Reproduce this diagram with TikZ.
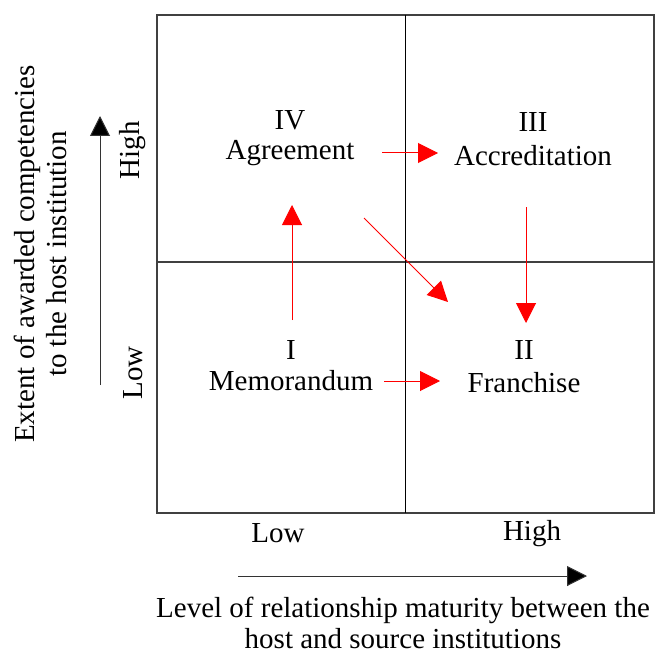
\documentclass[tikz,border=0pt]{standalone}
\usepackage{fontspec}
\setmainfont{Liberation Serif}
\usetikzlibrary{arrows.meta}
\begin{document}
\begin{tikzpicture}[x=1pt,y=-1pt,
  lbl/.style={inner sep=0pt,font=\fontsize{29}{34}\selectfont},
  grid/.style={line width=1.1pt,draw=black!75},
  flow/.style={red,line width=1pt,-{Triangle[length=20pt,width=20pt]}},
  axis/.style={black!80,line width=1pt,-{Triangle[length=20pt,width=20pt,fill=black]}}]
\useasboundingbox (0,0) rectangle (655,655);
% quadrant frame
\draw[grid] (157,15) rectangle (654,513);
\draw[grid] (157,262) -- (654,262);
\draw[black,line width=1pt] (405,15) -- (405,513);
% quadrant labels
\node[lbl] (n4) at (290,120) {IV};
\node[lbl] (agr) at (290,153) {Agreement};
\node[lbl] (n3) at (533,122) {III};
\node[lbl] (acc) at (533,156) {Accreditation};
\node[lbl] (n1) at (291,350) {I};
\node[lbl] (mem) at (291,381) {Memorandum};
\node[lbl] (n2) at (524,350) {II};
\node[lbl] (fra) at (524,383) {Franchise};
% transition arrows
\coordinate (a1s) at (382,153); \coordinate (a1e) at (438,153);
\coordinate (a2s) at (364,218); \coordinate (a2e) at (448,302);
\coordinate (a3s) at (292,320); \coordinate (a3e) at (292,205);
\coordinate (a4s) at (526,207); \coordinate (a4e) at (526,323);
\coordinate (a5s) at (384,381); \coordinate (a5e) at (440,381);
\draw[flow] (a1s) -- (a1e);
\draw[flow] (a2s) -- (a2e);
\draw[flow] (a3s) -- (a3e);
\draw[flow] (a4s) -- (a4e);
\draw[flow] (a5s) -- (a5e);
% scale labels
\node[lbl] (xlo) at (278,533) {Low};
\node[lbl] (xhi) at (532,534) {High};
\node[lbl,rotate=90] (yhi) at (133,150) {High};
\node[lbl,rotate=90] (ylo) at (133,373) {Low};
% axes
\coordinate (ys) at (100,385); \coordinate (ye) at (100,116);
\coordinate (xs) at (238,576); \coordinate (xe) at (587,576);
\draw[axis] (ys) -- (ye);
\draw[axis] (xs) -- (xe);
% axis titles
\node[lbl,rotate=90] (yt1) at (27,254) {Extent of awarded competencies};
\node[lbl,rotate=90] (yt2) at (57,254) {to the host institution};
\node[lbl] (xt1) at (403,610) {Level of relationship maturity between the};
\node[lbl] (xt2) at (403,639) {host and source institutions};
\end{tikzpicture}
\end{document}
